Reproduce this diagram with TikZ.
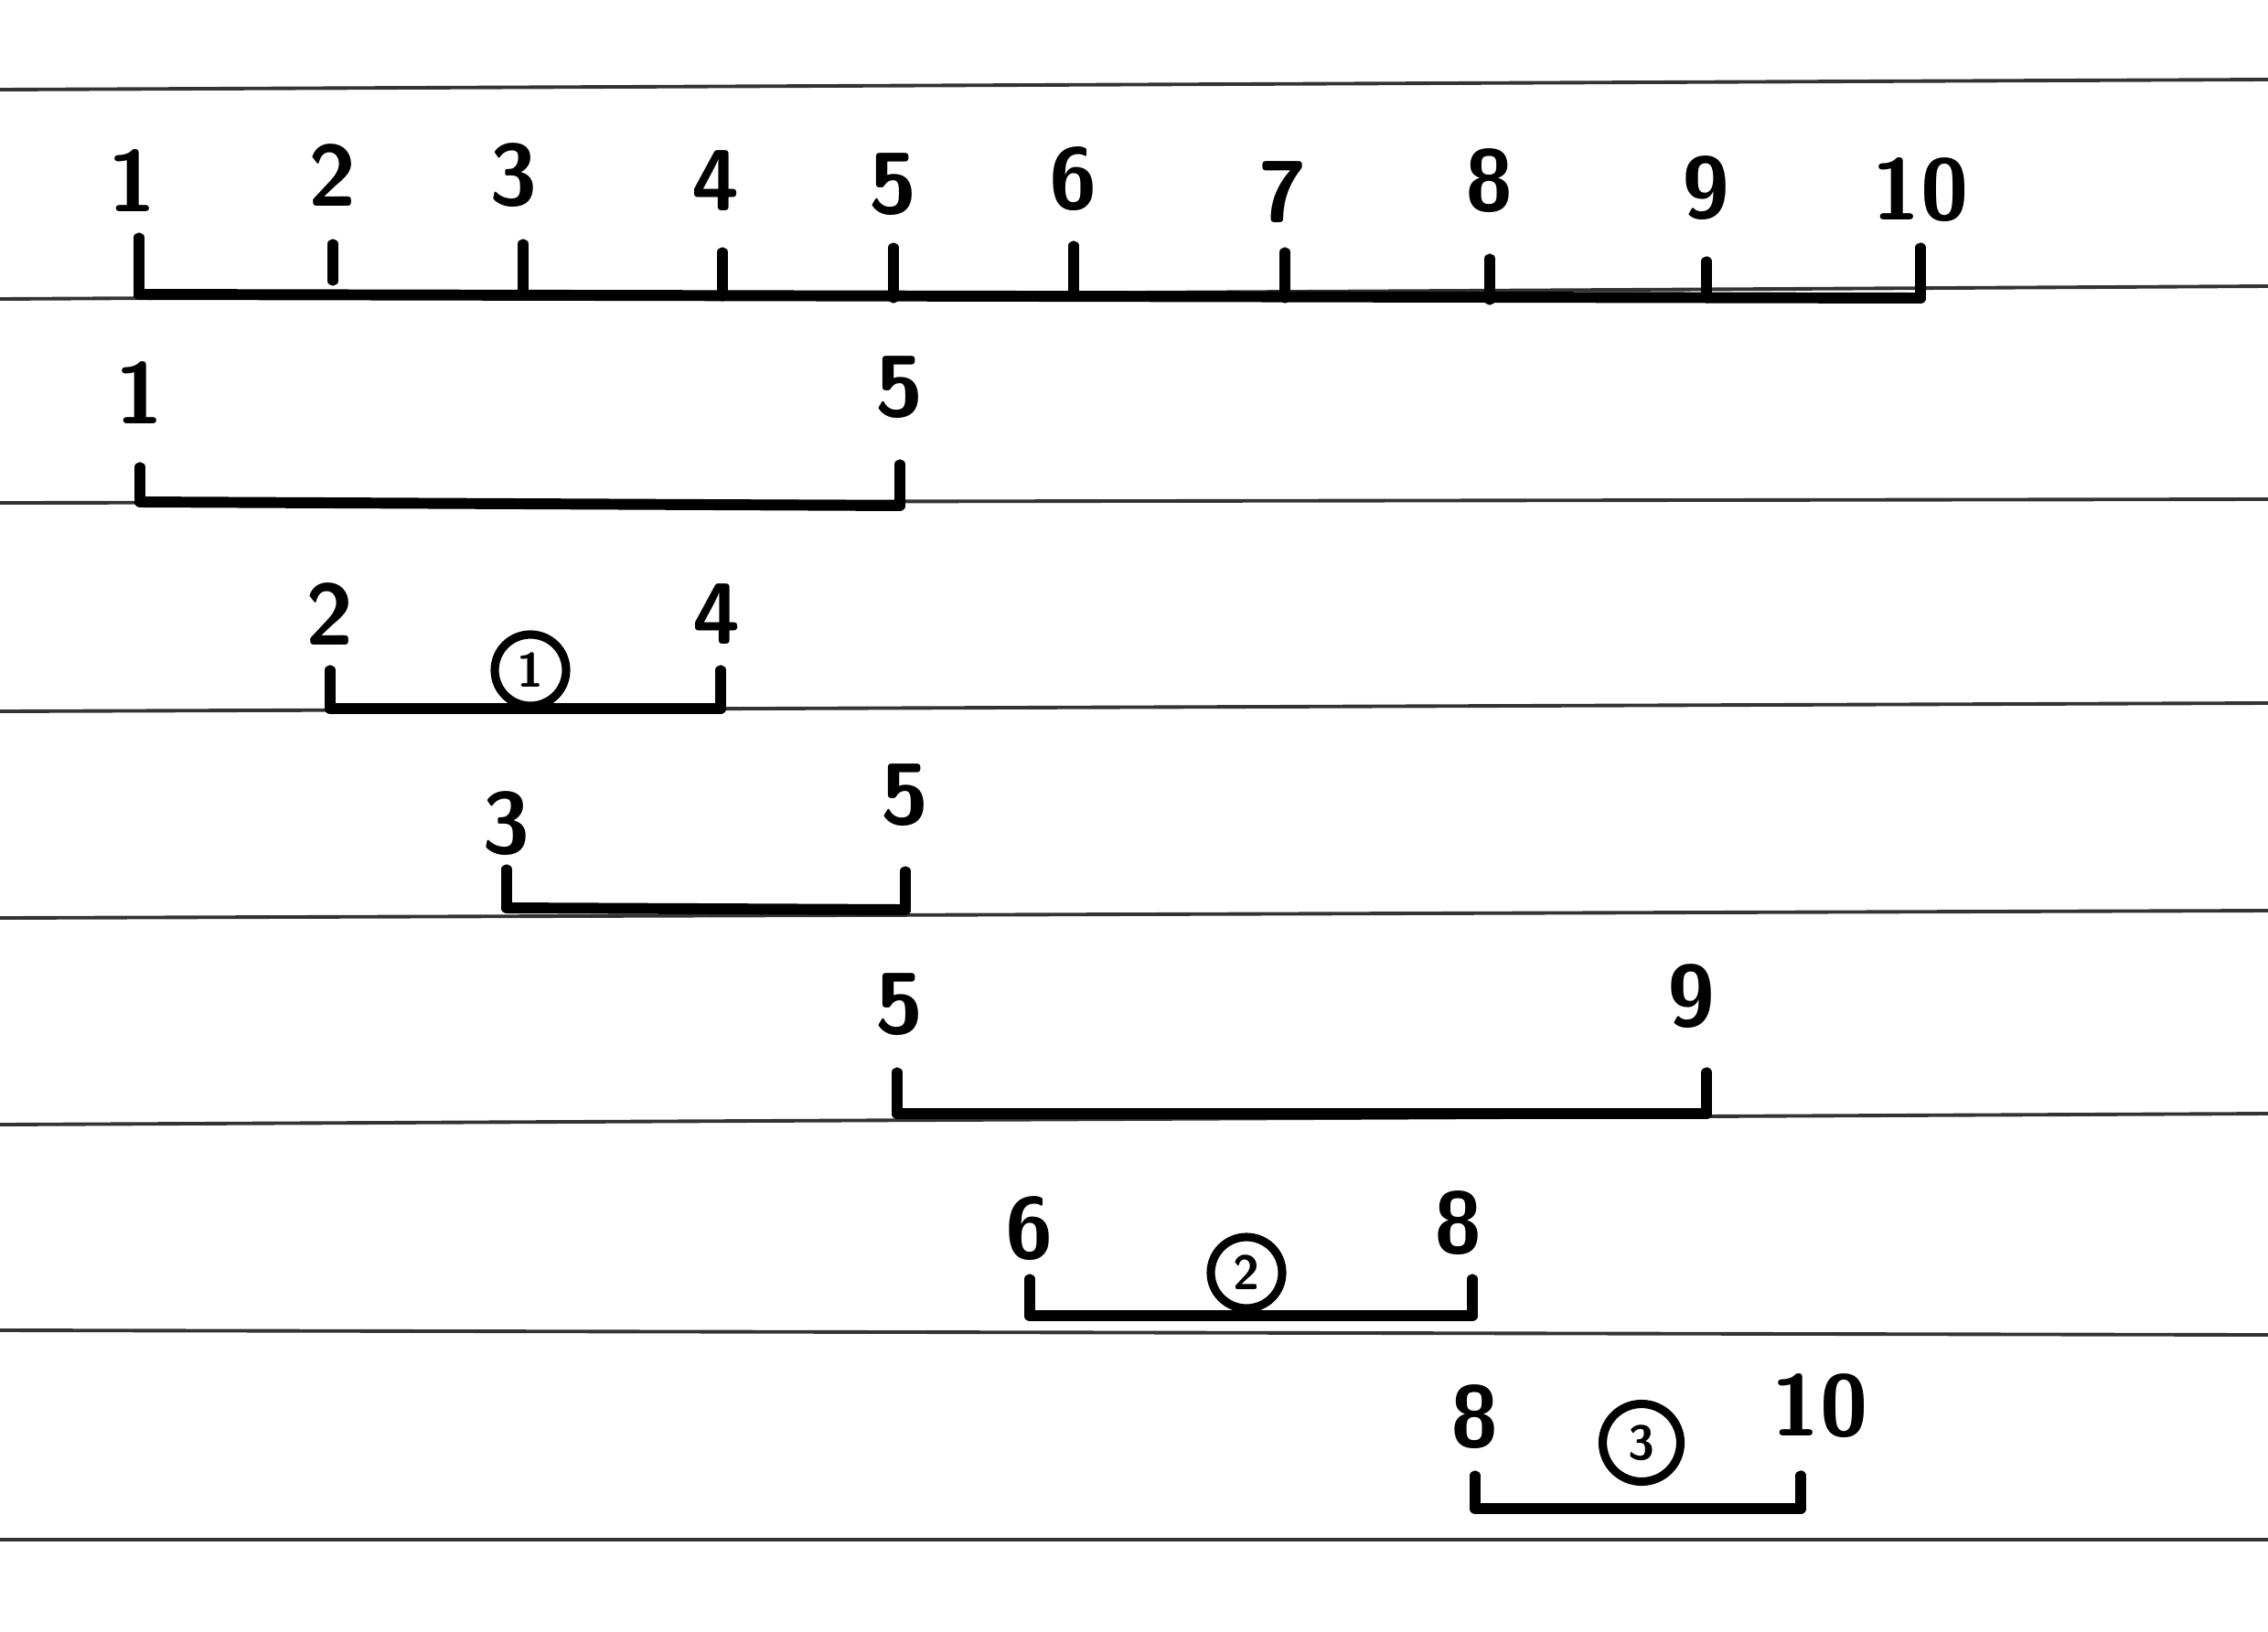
\documentclass[tikz,border=0pt]{standalone}
\tikzset{
  ruled/.style={line width=1.1pt, black!80},
  bar/.style={line width=3.4pt, line cap=round},
  tickline/.style={line width=3.2pt, line cap=round},
  num/.style={font=\sffamily\bfseries\fontsize{27}{30}\selectfont, inner sep=0pt},
  circled/.style={draw, circle, line width=2.6pt, minimum size=0.78cm, inner sep=0pt, font=\sffamily\bfseries\fontsize{15}{17}\selectfont}
}
\begin{document}
\begin{tikzpicture}
	\useasboundingbox (0,0) rectangle (24.8,-17.84);
	% paper lines
	\draw[ruled] (0,-0.98) to (24.8,-0.87);
	\draw[ruled] (0,-3.27) to (24.8,-3.13);
	\draw[ruled] (0,-5.50) to (24.8,-5.46);
	\draw[ruled] (0,-7.78) to (24.8,-7.69);
	\draw[ruled] (0,-10.04) to (24.8,-9.96);
	\draw[ruled] (0,-12.30) to (24.8,-12.18);
	\draw[ruled] (0,-14.55) to (24.8,-14.60);
	\draw[ruled] (0,-16.84) to (24.8,-16.84);
	% full range 1..10
	\coordinate (A1) at (1.52,-3.22);
	\coordinate (A2) at (3.64,-3.22);
	\coordinate (A3) at (5.72,-3.22);
	\coordinate (A4) at (7.90,-3.24);
	\coordinate (A5) at (9.77,-3.26);
	\coordinate (A6) at (11.74,-3.24);
	\coordinate (A7) at (14.05,-3.26);
	\coordinate (A8) at (16.29,-3.28);
	\coordinate (A9) at (18.66,-3.26);
	\coordinate (A10) at (21.00,-3.26);
	\draw[bar] (A1) to (A10);
	\draw[tickline] (A1) to ++(0,0.62);
	\draw[tickline] ([yshift=0.15cm]A2) to ++(0,0.40);
	\draw[tickline] (A3) to ++(0,0.55);
	\draw[tickline] (A4) to ++(0,0.48);
	\draw[tickline] (A5) to ++(0,0.55);
	\draw[tickline] (A6) to ++(0,0.55);
	\draw[tickline] (A7) to ++(0,0.50);
	\draw[tickline] (A8) to ++(0,0.45);
	\draw[tickline] (A9) to ++(0,0.40);
	\draw[tickline] (A10) to ++(0,0.55);
	\node[num] (a1) at (1.45,-1.98) {1};
	\node[num] (a2) at (3.64,-1.92) {2};
	\node[num] (a3) at (5.62,-1.92) {3};
	\node[num] (a4) at (7.83,-1.98) {4};
	\node[num] (a5) at (9.77,-2.02) {5};
	\node[num] (a6) at (11.74,-1.96) {6};
	\node[num] (a7) at (14.03,-2.10) {7};
	\node[num] (a8) at (16.29,-1.98) {8};
	\node[num] (a9) at (18.66,-2.06) {9};
	\node[num] (a10) at (21.00,-2.08) {10};
	% 1..5
	\coordinate (B1) at (1.53,-5.49);
	\coordinate (B5) at (9.84,-5.53);
	\draw[bar] (B1) to (B5);
	\draw[tickline] (B1) to ++(0,0.38);
	\draw[tickline] (B5) to ++(0,0.45);
	\node[num] (b1) at (1.53,-4.30) {1};
	\node[num] (b5) at (9.84,-4.24) {5};
	% 2..4
	\coordinate (C2) at (3.61,-7.75);
	\coordinate (C4) at (7.88,-7.75);
	\draw[bar] (C2) to (C4);
	\draw[tickline] (C2) to ++(0,0.42);
	\draw[tickline] (C4) to ++(0,0.42);
	\node[num] (c2) at (3.61,-6.72) {2};
	\node[num] (c4) at (7.84,-6.72) {4};
	\node[circled] (r1) at (5.80,-7.33) {1};
	% 3..5
	\coordinate (D3) at (5.54,-9.93);
	\coordinate (D5) at (9.90,-9.95);
	\draw[bar] (D3) to (D5);
	\draw[tickline] (D3) to ++(0,0.42);
	\draw[tickline] (D5) to ++(0,0.42);
	\node[num] (d3) at (5.54,-9.01) {3};
	\node[num] (d5) at (9.90,-8.70) {5};
	% 5..9
	\coordinate (E5) at (9.81,-12.18);
	\coordinate (E9) at (18.66,-12.18);
	\draw[bar] (E5) to (E9);
	\draw[tickline] (E5) to ++(0,0.45);
	\draw[tickline] (E9) to ++(0,0.45);
	\node[num] (e5) at (9.84,-10.99) {5};
	\node[num] (e9) at (18.50,-10.90) {9};
	% 6..8
	\coordinate (F6) at (11.26,-14.39);
	\coordinate (F8) at (16.10,-14.39);
	\draw[bar] (F6) to (F8);
	\draw[tickline] (F6) to ++(0,0.40);
	\draw[tickline] (F8) to ++(0,0.40);
	\node[num] (f6) at (11.26,-13.44) {6};
	\node[num] (f8) at (15.95,-13.38) {8};
	\node[circled] (r2) at (13.63,-13.92) {2};
	% 8..10
	\coordinate (G8) at (16.13,-16.50);
	\coordinate (G10) at (19.69,-16.50);
	\draw[bar] (G8) to (G10);
	\draw[tickline] (G8) to ++(0,0.36);
	\draw[tickline] (G10) to ++(0,0.36);
	\node[num] (g8) at (16.13,-15.50) {8};
	\node[num] (g10) at (19.90,-15.38) {10};
	\node[circled, minimum size=0.85cm] (r3) at (17.95,-15.78) {3};
\end{tikzpicture}
\end{document}
